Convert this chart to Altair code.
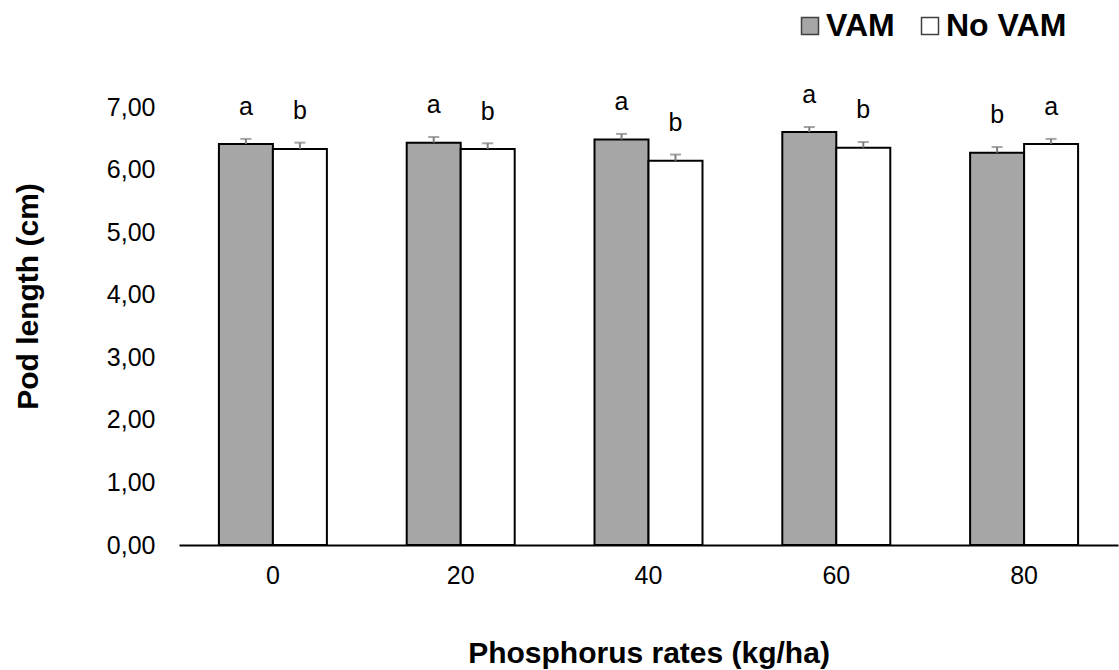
import altair as alt
import pandas as pd

# Phosphorus rates (kg/ha) on the x axis
rates = ["0", "20", "40", "60", "80"]
groups = ["VAM", "No VAM"]

# Mean pod length (cm) and standard error per treatment
vam_mean = [6.41, 6.43, 6.48, 6.60, 6.27]
vam_err = [0.08, 0.09, 0.09, 0.08, 0.09]
vam_letter = ["a", "a", "a", "a", "b"]

novam_mean = [6.33, 6.33, 6.14, 6.35, 6.41]
novam_err = [0.10, 0.09, 0.10, 0.09, 0.08]
novam_letter = ["b", "b", "b", "b", "a"]

rows = []
for i, r in enumerate(rates):
    rows.append(dict(rate=r, treat="VAM", mean=vam_mean[i], err=vam_err[i], letter=vam_letter[i]))
    rows.append(dict(rate=r, treat="No VAM", mean=novam_mean[i], err=novam_err[i], letter=novam_letter[i]))
df = pd.DataFrame(rows)
df["top"] = df["mean"] + df["err"]

FONT = "Liberation Sans"
W, H = 939, 438

x_enc = alt.X(
    "rate:N",
    sort=rates,
    scale=alt.Scale(paddingInner=0.425, paddingOuter=0.2125),
    axis=alt.Axis(
        title="Phosphorus rates (kg/ha)",
        labelAngle=0,
        labelFontSize=25,
        labelColor="black",
        labelPadding=18,
        ticks=False,
        domain=True,
        domainColor="black",
        domainWidth=2,
        grid=False,
        titleFontSize=30,
        titleFontWeight="bold",
        titleColor="black",
        titleX=W / 2,
        titleY=117,
        titleAlign="center",
        titleBaseline="alphabetic",
    ),
)
xoff_enc = alt.XOffset("treat:N", sort=groups, scale=alt.Scale(paddingInner=0, paddingOuter=0))

y_scale = alt.Scale(domain=[0, 7], nice=False, zero=True)
y_axis = alt.Axis(
    title="Pod length (cm)",
    values=[0, 1, 2, 3, 4, 5, 6, 7],
    labelExpr="replace(format(datum.value, '.2f'), '.', ',')",
    labelFontSize=25,
    labelColor="black",
    labelPadding=24,
    ticks=False,
    tickSize=0,
    domain=False,
    grid=False,
    titleFontSize=30,
    titleFontWeight="bold",
    titleColor="black",
    titleX=-151,
    titleY=189,
    titleAngle=270,
    titleAlign="center",
    titleBaseline="middle",
)

base = alt.Chart(df).encode(x=x_enc, xOffset=xoff_enc)

bars = base.mark_bar(stroke="black", strokeWidth=2).encode(
    y=alt.Y("mean:Q", scale=y_scale, axis=y_axis),
    color=alt.Color(
        "treat:N",
        sort=groups,
        scale=alt.Scale(domain=groups, range=["#a6a6a6", "#ffffff"]),
        legend=alt.Legend(
            title=None,
            orient="none",
            legendX=615,
            legendY=-97,
            padding=0,
            direction="horizontal",
            symbolType="square",
            symbolSize=289,
            symbolStrokeColor="#404040",
            symbolStrokeWidth=1.5,
            symbolOpacity=1,
            labelFontSize=32,
            labelFontWeight="bold",
            labelColor="black",
            labelOffset=0,
            columnPadding=19,
        ),
    ),
)

err_lines = base.mark_rule(color="#7f7f7f", strokeWidth=2).encode(
    y=alt.Y("mean:Q", scale=y_scale, axis=y_axis),
    y2="top:Q",
)

err_caps = base.mark_tick(color="#7f7f7f", thickness=2, size=11, orient="horizontal").encode(
    y=alt.Y("top:Q", scale=y_scale, axis=y_axis),
)

letters = base.transform_calculate(ly="datum.top + 0.38").mark_text(
    fontSize=25, baseline="alphabetic", align="center", color="black", font=FONT
).encode(
    y=alt.Y("ly:Q", scale=y_scale, axis=y_axis),
    text="letter:N",
)

chart = (
    alt.layer(bars, err_lines, err_caps, letters)
    .properties(
        width=W,
        height=H,
        autosize=alt.AutoSizeParams(type="none"),
        padding={"left": 179, "top": 107, "right": 1, "bottom": 125},
        background="white",
    )
    .configure(font=FONT)
    .configure_view(stroke=None)
)

chart.save("out.html", embed_options={"renderer": "svg", "actions": False})
